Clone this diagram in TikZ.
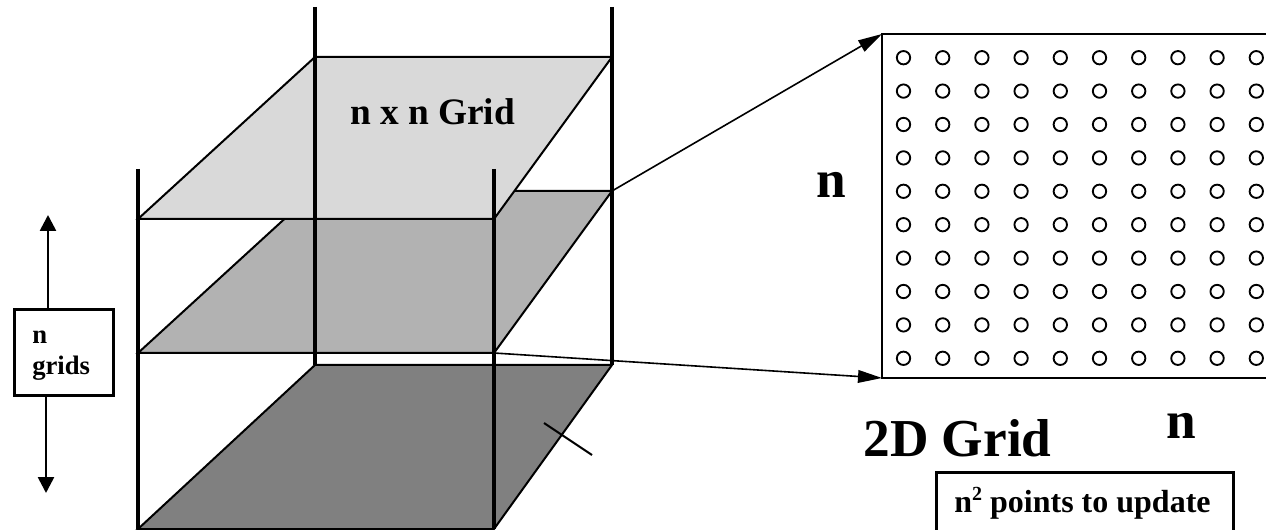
\documentclass[tikz,border=0pt]{standalone}
\usepackage{fontspec}
\setmainfont{Liberation Serif}
\usetikzlibrary{arrows.meta}
\newcommand{\supr}[1]{\raisebox{0.36em}{\fontsize{15}{15}\selectfont #1}}
\tikzset{
  post/.style={draw=black,line width=3pt},
  edgeline/.style={draw=black,line width=1.5pt},
  plane/.style={edgeline},
  link/.style={draw=black,line width=1.2pt,-{Triangle[length=18pt,width=9.5pt]}},
  bigarrow/.style={draw=black,line width=2pt,-{Triangle[length=12pt,width=12pt]}},
  box/.style={draw=black,line width=2pt,fill=white,inner sep=0pt,anchor=north west},
  dot/.style={circle,draw=black,line width=1.4pt,minimum size=10pt,inner sep=0pt},
  lab/.style={font=\bfseries,inner sep=0pt,text=black}
}
\begin{document}
\begin{tikzpicture}[x=0.75pt,y=-0.75pt]
\useasboundingbox (0,0) rectangle (1266,530);
% corners
\coordinate (tfl) at (138,219);
\coordinate (tbl) at (315,57);
\coordinate (tbr) at (612,57);
\coordinate (tfr) at (494,219);
\coordinate (mfl) at (138,353);
\coordinate (mbl) at (315,191);
\coordinate (mbr) at (612,191);
\coordinate (mfr) at (494,353);
\coordinate (bfl) at (138,529);
\coordinate (bbl) at (315,365);
\coordinate (bbr) at (612,365);
\coordinate (bfr) at (494,529);
% planes
\draw[plane,fill=black!50] (bfl)--(bbl)--(bbr)--(bfr)--cycle;
\draw[plane,fill=black!30] (mfl)--(mbl)--(mbr)--(mfr)--cycle;
\draw[plane,fill=black!15] (tfl)--(tbl)--(tbr)--(tfr)--cycle;
% posts
\coordinate (p1) at (138,169);
\coordinate (p2) at (315,7);
\coordinate (p3) at (494,169);
\coordinate (p4) at (612,7);
\draw[post] (p1)--(bfl);
\draw[post] (p2)--(bbl);
\draw[post] (p3)--(bfr);
\draw[post] (p4)--(bbr);
% tick
\coordinate (t1) at (544,423);
\coordinate (t2) at (592,455);
\draw[edgeline] (t1)--(t2);
% grid
\coordinate (gtl) at (882,34);
\coordinate (gbl) at (882,378);
\coordinate (gtr) at (1266,34);
\coordinate (gbr) at (1266,378);
\draw[edgeline] (gtr)--(gtl)--(gbl)--(gbr);
\foreach \c in {0,...,9}
  \foreach \r in {0,...,9}
    \node[dot] (d\c-\r) at ({903.5+39.2*\c},{57.7+33.4*\r}) {};
% links
\draw[link] (mbr)--(gtl);
\draw[link] (mfr)--(gbl);
% n grids
\node[box,minimum width=74.25pt,minimum height=64.5pt] (gbox) at (13,308) {};
\node[lab,anchor=base west,font=\bfseries\fontsize{20}{24}\selectfont] (ln) at (32,344) {n};
\node[lab,anchor=base west,font=\bfseries\fontsize{20}{24}\selectfont] (lg) at (32,375) {grids};
\coordinate (up) at (48,215);
\coordinate (dn) at (46,493);
\coordinate (upb) at (48,310);
\coordinate (dnb) at (46,397);
\draw[bigarrow] (upb)--(up);
\draw[bigarrow] (dnb)--(dn);
% labels
\node[lab,anchor=base,font=\bfseries\fontsize{28}{32}\selectfont] (title) at (432.5,125) {n x n Grid};
\node[lab,anchor=base,font=\bfseries\fontsize{40}{44}\selectfont] (nl) at (831,198) {n};
\node[lab,anchor=base,font=\bfseries\fontsize{40}{44}\selectfont] (nb) at (1181,438) {n};
\node[lab,anchor=base,font=\bfseries\fontsize{40}{44}\selectfont] (two) at (957.5,456) {2D Grid};
\node[box,minimum width=222.75pt,minimum height=45pt] (upd) at (935,471) {};
\node[lab,anchor=base,font=\bfseries\fontsize{24}{28}\selectfont] (updt) at (1082.5,512) {n\supr{2} points to update};
\end{tikzpicture}
\end{document}
